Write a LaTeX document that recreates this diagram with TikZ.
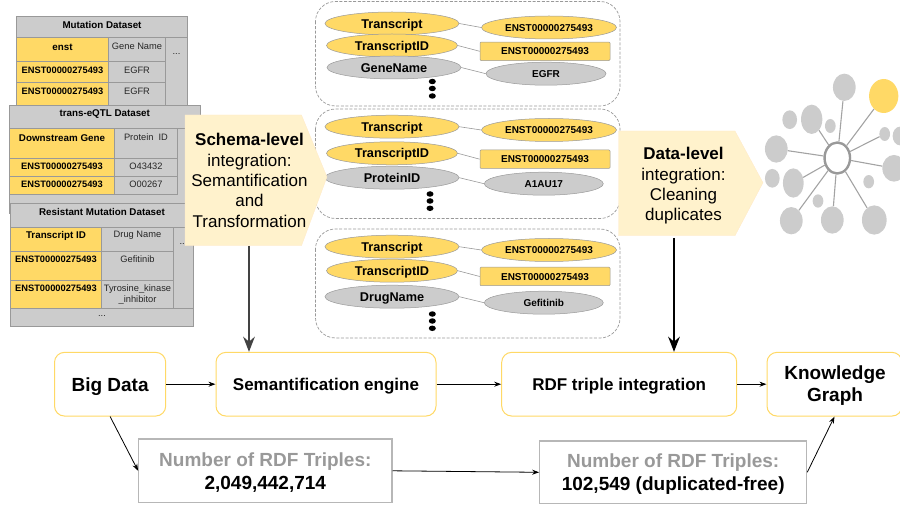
\documentclass[tikz,border=0pt]{standalone}
\usepackage{fontspec}
\setmainfont{Liberation Sans}
\usetikzlibrary{shapes.geometric,arrows.meta}
\definecolor{yel}{HTML}{FFD966}
\definecolor{gry}{HTML}{CCCCCC}
\definecolor{edge}{HTML}{999999}
\definecolor{pale}{HTML}{FFF2CC}
\definecolor{boxline}{HTML}{B7B7B7}
\definecolor{dark}{HTML}{434343}
\newcommand{\fs}[1]{\dimen0=#1pt\dimen0=1.2\dimen0\fontsize{#1pt}{\the\dimen0}\selectfont}
% table cell: x0,y0,x1,y1,fill,text y,font options,text
\newcommand{\tcell}[8]{%
  \pgfmathsetmacro{\mx}{(#1+#3)/2}%
  \draw[cellline,fill=#5] (#1,#2) rectangle (#3,#4);%
  \node[celltext,#7] at (\mx,#6) {#8};}
\tikzset{
  x=1pt,y=-1pt,
  cellline/.style={draw=edge,line width=0.8pt},
  celltext/.style={inner sep=0pt,align=center,font=\fs{9.3},text=black!85},
  tb/.style={font=\fs{9.3}\bfseries,text=black},
  th/.style={font=\fs{9.8}\bfseries,text=black},
  bubY/.style={ellipse,draw=edge,line width=0.5pt,fill=yel,inner sep=0pt,minimum height=23pt,font=\fs{12.7}\bfseries,text height=9.1pt,text depth=0pt},
  bubG/.style={ellipse,draw=edge,line width=0.5pt,fill=gry,inner sep=0pt,minimum height=23pt,font=\fs{12.7}\bfseries,text height=9.1pt,text depth=0pt},
  valY/.style={ellipse,draw=edge,line width=0.5pt,fill=yel,inner sep=0pt,minimum width=135pt,minimum height=23pt,font=\fs{10}\bfseries,text height=7.2pt,text depth=0pt},
  valG/.style={ellipse,draw=edge,line width=0.5pt,fill=gry,inner sep=0pt,minimum width=119pt,minimum height=23pt,font=\fs{10}\bfseries,text height=7.2pt,text depth=0pt},
  valR/.style={rectangle,rounded corners=1pt,draw=edge,line width=0.5pt,fill=yel,inner sep=0pt,minimum width=130pt,minimum height=18.5pt,font=\fs{10}\bfseries,text height=7.2pt,text depth=0pt},
  link/.style={draw=edge,line width=0.6pt},
  dotn/.style={ellipse,fill=black,inner sep=0pt,minimum width=7pt,minimum height=5.5pt},
  group/.style={draw=edge,dash pattern=on 3pt off 1.6pt,line width=0.7pt,rounded corners=20pt},
  pent/.style={fill=pale,draw=pale!80!orange!60,line width=0.3pt},
  flowbox/.style={rectangle,rounded corners=10pt,draw=yel,line width=1pt,fill=white,inner sep=0pt,align=center,font=\fs{17}\bfseries,text height=12.2pt,text depth=0pt},
  flowbig/.style={font=\fs{19}\bfseries,text height=13.6pt,text depth=0pt},
  framebox/.style={rectangle,rounded corners=10pt,draw=yel,line width=1pt,fill=white,inner sep=0pt},
  countbox/.style={rectangle,draw=boxline,line width=1.1pt,fill=white,inner sep=0pt},
  boxtext/.style={inner sep=0pt,align=center,font=\fs{19}\bfseries},
  flow/.style={draw=black,line width=0.8pt,-{Stealth[length=7pt,width=5pt]}},
  net/.style={ellipse,fill=gry,inner sep=0pt},
  spoke/.style={draw=edge!90,line width=1.1pt},
}
\begin{document}
\begin{tikzpicture}
\useasboundingbox (0,0) rectangle (900,505);
% Mutation table
\tcell{16.5}{16}{187.5}{37.5}{gry}{25}{th}{Mutation Dataset}
\tcell{16.5}{37.5}{108.5}{61}{yel}{47}{th}{enst}
\tcell{108.5}{37.5}{165.5}{61}{gry}{46}{}{Gene Name}
\tcell{165.5}{37.5}{187.5}{105}{gry}{54}{}{...}
\tcell{16.5}{61}{108.5}{82}{yel}{70}{tb}{ENST00000275493}
\tcell{108.5}{61}{165.5}{82}{gry}{70}{}{EGFR}
\tcell{16.5}{82}{108.5}{105}{yel}{91}{tb}{ENST00000275493}
\tcell{108.5}{82}{165.5}{105}{gry}{91}{}{EGFR}
% trans-eQTL table
\tcell{9.5}{105}{200}{128}{gry}{114}{th}{trans-eQTL Dataset}
\draw[cellline,fill=gry] (9.5,128) rectangle (200,213);
\tcell{9.5}{128}{114.5}{158}{yel}{138}{th}{Downstream Gene}
\tcell{114.5}{128}{177.5}{158}{gry}{137}{}{Protein~ ID}
\tcell{9.5}{158}{114.5}{176}{yel}{166}{tb}{ENST00000275493}
\tcell{114.5}{158}{177.5}{176}{gry}{166}{}{O43432}
\tcell{9.5}{176}{114.5}{194}{yel}{184}{tb}{ENST00000275493}
\tcell{114.5}{176}{177.5}{194}{gry}{184}{}{O00267}
% Resistant table
\tcell{10.5}{203}{193.5}{227}{gry}{212}{th}{Resistant Mutation Dataset}
\tcell{10.5}{227}{101.5}{251.5}{yel}{236}{th}{Transcript ID}
\tcell{101.5}{227}{173.5}{251.5}{gry}{235}{}{Drug Name}
\tcell{173.5}{227}{193.5}{308.5}{gry}{244}{}{...}
\tcell{10.5}{251.5}{101.5}{280.5}{yel}{259.5}{tb}{ENST00000275493}
\tcell{101.5}{251.5}{173.5}{280.5}{gry}{259.5}{}{Gefitinib}
\tcell{10.5}{280.5}{101.5}{308.5}{yel}{288.5}{tb}{ENST00000275493}
\tcell{101.5}{280.5}{173.5}{308.5}{gry}{294.5}{}{Tyrosine\_kinase\\\_inhibitor}
\tcell{10.5}{308.5}{193.5}{326}{gry}{316}{}{...}
% Dashed groups
\draw[group] (315.5,1.5) rectangle (620,106);
\draw[group] (315.5,109) rectangle (620,218.5);
\draw[group] (315.5,229) rectangle (620,338);
% Group 1
\node[bubY,minimum width=134pt] (a1) at (392,23.5) {Transcript};
\node[bubY,minimum width=131pt] (b1) at (392,45.5) {TranscriptID};
\node[bubG,minimum width=134pt] (c1) at (394,67.5) {GeneName};
\node[valY] (d1) at (549,27.5) {ENST00000275493};
\node[valR] (e1) at (545,51.3) {ENST00000275493};
\node[valG,minimum width=120pt] (f1) at (546,73.7) {EGFR};
\draw[link] (a1.east) -- (d1.west);
\draw[link] (b1.east) -- (e1.west);
\draw[link] (c1.east) -- (f1.west);
\node[dotn] (g1) at (432.3,81.5) {};
\node[dotn] (h1) at (432.3,88.5) {};
\node[dotn] (i1) at (432.3,96) {};
% Group 2
\node[bubY,minimum width=134pt] (a2) at (392,126.7) {Transcript};
\node[bubY,minimum width=131pt] (b2) at (392,153.3) {TranscriptID};
\node[bubG,minimum width=134pt] (c2) at (392,177.7) {ProteinID};
\node[valY] (d2) at (549,130) {ENST00000275493};
\node[valR] (e2) at (545,159.2) {ENST00000275493};
\node[valG] (f2) at (543.8,183.7) {A1AU17};
\draw[link] (a2.east) -- (d2.west);
\draw[link] (b2.east) -- (e2.west);
\draw[link] (c2.east) -- (f2.west);
\node[dotn] (g2) at (430,194) {};
\node[dotn] (h2) at (430,201) {};
\node[dotn] (i2) at (430,208.3) {};
% Group 3
\node[bubY,minimum width=134pt] (a3) at (392,246.7) {Transcript};
\node[bubY,minimum width=131pt] (b3) at (392,270.7) {TranscriptID};
\node[bubG,minimum width=134pt] (c3) at (392,296.7) {DrugName};
\node[valY] (d3) at (549,250) {ENST00000275493};
\node[valR] (e3) at (545,276.5) {ENST00000275493};
\node[valG] (f3) at (543.8,302.7) {Gefitinib};
\draw[link] (a3.east) -- (d3.west);
\draw[link] (b3.east) -- (e3.west);
\draw[link] (c3.east) -- (f3.west);
\node[dotn] (g3) at (432.3,314) {};
\node[dotn] (h3) at (432.3,321) {};
\node[dotn] (i3) at (432.3,328.3) {};
% Pentagons
\draw[pent] (185,115) -- (301.5,115) -- (327,177) -- (301.5,245.7) -- (185,245.7) -- cycle;
\node[inner sep=0pt,align=center,font=\fs{17},text=black] (schema) at (249.5,180.5) {{\bfseries Schema-level}\\integration:\\Semantification\\and\\Transformation};
\draw[pent] (618.5,131) -- (735,131) -- (763,182.7) -- (735,235.7) -- (618.5,235.7) -- cycle;
\node[inner sep=0pt,align=center,font=\fs{17},text=black] (datal) at (683.5,186) {{\bfseries Data-level}\\integration:\\Cleaning\\duplicates};
% Network
\node[ellipse,draw=edge,line width=2.4pt,fill=white,inner sep=0pt,minimum width=25.5pt,minimum height=31pt] (hub) at (837.3,158) {};
\node[net,minimum width=22.7pt,minimum height=27.3pt] (n1) at (844.3,87.3) {};
\node[net,fill=yel,minimum width=29.3pt,minimum height=34pt] (n2) at (883.7,96) {};
\node[net,minimum width=21.3pt,minimum height=29.3pt] (n3) at (811.7,119.3) {};
\node[net,minimum width=14.7pt,minimum height=18.7pt] (n4) at (789.7,119.7) {};
\node[net,minimum width=10.7pt,minimum height=14pt] (n5) at (830.3,126) {};
\node[net,minimum width=10.7pt,minimum height=14pt] (n6) at (884.7,134) {};
\node[net,minimum width=14.7pt,minimum height=18.7pt] (n7) at (900,136) {};
\node[net,minimum width=22.7pt,minimum height=27.3pt] (n8) at (776.3,149) {};
\node[net,minimum width=23.3pt,minimum height=26.7pt] (n9) at (894,168.3) {};
\node[net,minimum width=14.7pt,minimum height=18.7pt] (n10) at (772.3,178.3) {};
\node[net,minimum width=20.7pt,minimum height=29.3pt] (n11) at (793.3,183) {};
\node[net,minimum width=10.7pt,minimum height=13.3pt] (n12) at (868.7,181.7) {};
\node[net,minimum width=10.7pt,minimum height=13.3pt] (n13) at (818,201) {};
\node[net,minimum width=22.7pt,minimum height=27.3pt] (n14) at (791.3,220.7) {};
\node[net,minimum width=22.7pt,minimum height=27.3pt] (n15) at (832.3,220) {};
\node[net,minimum width=24.7pt,minimum height=29.3pt] (n16) at (874.3,220) {};
\draw[spoke] (hub) -- (n1) (hub) -- (n2) (hub) -- (n3) (hub) -- (n6)
  (hub) -- (n8) (hub) -- (n9) (hub) -- (n11) (hub) -- (n14)
  (hub) -- (n15) (hub) -- (n16);
% Flow boxes
\node[flowbox,flowbig,minimum width=111.2pt,minimum height=63.7pt] (big) at (110.1,384.2) {Big Data};
\node[flowbox,minimum width=220pt,minimum height=63.7pt] (sem) at (326,384.2) {Semantification engine};
\node[flowbox,minimum width=235pt,minimum height=63.7pt] (rdf) at (619.2,384.2) {RDF triple integration};
\node[framebox,minimum width=135pt,minimum height=63.7pt] (kg) at (834.5,384.2) {};
\node[boxtext] (kgt) at (835,385.5) {Knowledge\\Graph};
\node[countbox,minimum width=253.3pt,minimum height=63.7pt] (c1b) at (265.3,470.8) {};
\node[boxtext] (c1t) at (265.3,472.3) {{\color{edge}Number of RDF Triples:}\\2,049,442,714};
\node[countbox,minimum width=267pt,minimum height=62.7pt] (c2b) at (673.2,472.3) {};
\node[boxtext] (c2t) at (673.2,474) {{\color{edge}Number of RDF Triples:}\\102,549 (duplicated-free)};
% Flow arrows
\draw[flow] (big.east) -- (sem.west);
\draw[flow] (sem.east) -- (rdf.west);
\draw[flow] (rdf.east) -- (kg.west);
\draw[flow] (big.south) -- (c1b.west);
\draw[flow] (c1b.east) -- (c2b.west);
\draw[flow] (c2b.east) -- (kg.south);
\coordinate (sa) at (249,246);
\coordinate (da) at (674,238);
\draw[draw=dark,line width=2.6pt,-{Stealth[length=15pt,width=11.5pt]}] (sa) -- (sa |- sem.north);
\draw[draw=black,line width=2.6pt,-{Stealth[length=15pt,width=11.5pt]}] (da) -- (da |- rdf.north);
\end{tikzpicture}
\end{document}
